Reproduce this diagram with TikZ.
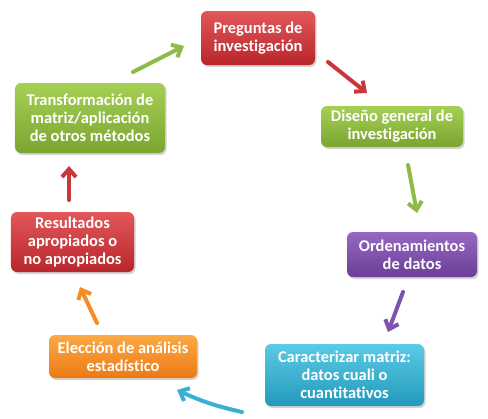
\documentclass[tikz,border=0pt]{standalone}
\usepackage{fontspec}
\setmainfont[Ligatures=NoCommon]{Carlito}
\usetikzlibrary{arrows.meta,shadows}
\definecolor{rtop}{HTML}{E2575A}
\definecolor{rbot}{HTML}{B8262B}
\definecolor{rline}{HTML}{C9363B}
\definecolor{gtop}{HTML}{A6CF55}
\definecolor{gbot}{HTML}{7BA531}
\definecolor{gline}{HTML}{8DBB45}
\definecolor{ptop}{HTML}{9668C2}
\definecolor{pbot}{HTML}{6B3E98}
\definecolor{pline}{HTML}{7E52AE}
\definecolor{ctop}{HTML}{5BCBE6}
\definecolor{cbot}{HTML}{2299BB}
\definecolor{cline}{HTML}{3AAFCF}
\definecolor{otop}{HTML}{FBAA45}
\definecolor{obot}{HTML}{EC7A14}
\definecolor{oline}{HTML}{F58C25}
\begin{document}
\begin{tikzpicture}[x=1bp,y=-1bp,
  box/.style={rounded corners=6bp, inner sep=0pt, align=center, text=white,
    font=\fontsize{16.5}{18}\selectfont\bfseries,
    drop shadow={shadow xshift=1.5bp, shadow yshift=-2bp, opacity=0.35}},
  redbox/.style={box, top color=rtop, bottom color=rbot},
  greenbox/.style={box, top color=gtop, bottom color=gbot},
  purplebox/.style={box, top color=ptop, bottom color=pbot},
  cyanbox/.style={box, top color=ctop, bottom color=cbot},
  orangebox/.style={box, top color=otop, bottom color=obot},
  flow/.style={line width=4bp, -{Straight Barb[length=8bp,width=14bp,line width=4bp]}, line cap=round}
]
\useasboundingbox (0,0) rectangle (488,418);

\node[redbox, minimum width=114bp, minimum height=54bp] (preg) at (258,38) {Preguntas de\\investigación};
\node[greenbox, minimum width=142bp, minimum height=41bp] (dis) at (392,126.5) {Diseño general de\\investigación};
\node[purplebox, minimum width=130bp, minimum height=45bp] (ord) at (412,254.5) {Ordenamientos\\de datos};
\node[cyanbox, minimum width=159bp, minimum height=62bp] (car) at (344.5,375) {Caracterizar matriz:\\datos cuali o\\cuantitativos};
\node[orangebox, minimum width=148bp, minimum height=43bp] (ele) at (123,356.5) {Elección de análisis\\estadístico};
\node[redbox, minimum width=123bp, minimum height=60bp] (res) at (72.5,242) {Resultados\\apropiados o\\no apropiados};
\node[greenbox, minimum width=150bp, minimum height=70bp] (tra) at (90,118) {Transformación de\\matriz/aplicación\\de otros métodos};

\coordinate (a1s) at (133,72);  \coordinate (a1e) at (184,46);
\coordinate (a2s) at (328,62);  \coordinate (a2e) at (367,93);
\coordinate (a3s) at (408,165); \coordinate (a3e) at (417,213);
\coordinate (a4s) at (403,292); \coordinate (a4e) at (388,332);
\coordinate (a5s) at (242,412); \coordinate (a5e) at (177,390);
\coordinate (a6s) at (97,323);  \coordinate (a6e) at (80,287);
\coordinate (a7s) at (69,200);  \coordinate (a7e) at (69,166);

\draw[flow, gline] (a1s) -- (a1e);
\draw[flow, rline] (a2s) -- (a2e);
\draw[flow, gline] (a3s) -- (a3e);
\draw[flow, pline] (a4s) -- (a4e);
\draw[flow, cline] (a5s) to[bend left=6] (a5e);
\draw[flow, oline] (a6s) -- (a6e);
\draw[flow, rline] (a7s) -- (a7e);
\end{tikzpicture}
\end{document}
